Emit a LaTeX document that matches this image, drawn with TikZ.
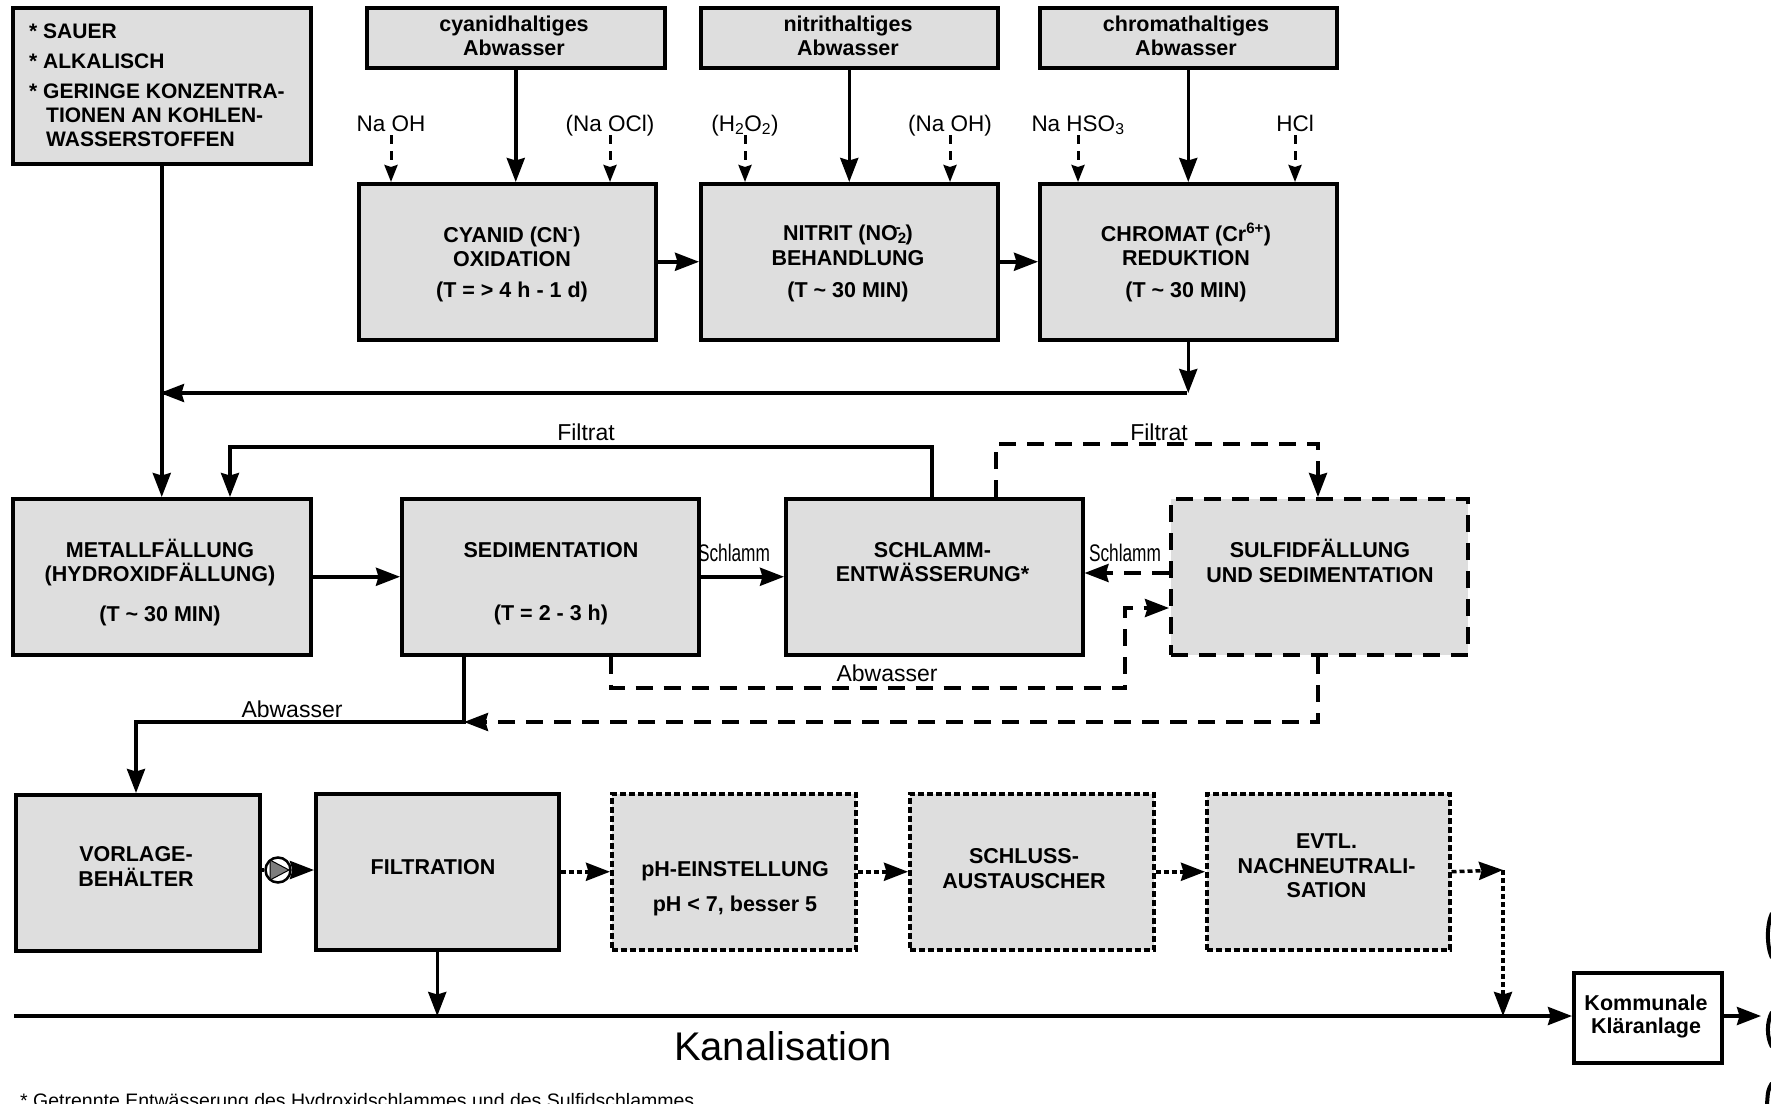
\documentclass[tikz,border=0pt]{standalone}
\usepackage{fontspec}
\setmainfont{Liberation Sans}
\newfontfamily\narrowsans[FakeStretch=0.72]{Liberation Sans}
\usetikzlibrary{arrows.meta}

\definecolor{boxgray}{RGB}{222,222,222}
\definecolor{pumpgray}{RGB}{125,125,125}

\newcommand\boxfont{\fontsize{21.5}{24}\selectfont\bfseries}
\newcommand\infofont{\fontsize{21}{24}\selectfont\bfseries}
\newcommand\reagfont{\fontsize{22.5}{26}\selectfont}
\newcommand\flowfont{\fontsize{23}{26}\selectfont}
\newcommand\sludgefont{\narrowsans\fontsize{24}{26}\selectfont}

\begin{document}
\begin{tikzpicture}[x=1pt,y=-1pt,
  box/.style={draw=black, line width=3.5pt, fill=boxgray, inner sep=0pt, anchor=north west},
  dashbox/.style={box, line width=4pt, dash pattern=on 17pt off 11pt},
  dotbox/.style={box, line width=3.5pt, dash pattern=on 6pt off 3pt},
  plainbox/.style={box, fill=white},
  btxt/.style={inner sep=0pt, anchor=base, align=center, font=\boxfont},
  ltxt/.style={inner sep=0pt, anchor=base west, font=\infofont},
  reag/.style={inner sep=0pt, anchor=base, font=\reagfont, text height=16pt, text depth=4pt},
  flow/.style={inner sep=0pt, anchor=base, font=\flowfont},
  sludge/.style={inner sep=0pt, anchor=base, font=\sludgefont},
  bigtip/.tip={Stealth[length=24pt,width=18pt,inset=2.5pt]},
  arr/.style={line width=3.5pt, -bigtip},
  line/.style={line width=3.5pt},
  darr/.style={line width=3.5pt, dash pattern=on 17pt off 11pt, -bigtip},
  rarr/.style={line width=3pt, dash pattern=on 9pt off 7pt, -{Stealth[length=17pt,width=13pt,inset=2pt]}},
  parr/.style={line width=3.5pt, dash pattern=on 5pt off 3pt, -bigtip},
]
\clip (0,0) rectangle (1771,1103);
\fill[white] (0,0) rectangle (1771,1103);

% ---------- top row: inflows and pre-treatment ----------
\node[box, minimum width=298pt, minimum height=156pt] (info) at (11,6) {};
\node[ltxt] (i1) at (29,38) {* SAUER};
\node[ltxt] (i2) at (29,68) {* ALKALISCH};
\node[ltxt] (i3) at (29,98) {* GERINGE KONZENTRA-};
\node[ltxt] (i4) at (46,122) {TIONEN AN KOHLEN-};
\node[ltxt] (i5) at (46,146) {WASSERSTOFFEN};

\node[box, minimum width=298pt, minimum height=60pt] (srcC) at (365,6) {};
\node[btxt] (srcCa) at (514,31) {cyanidhaltiges};
\node[btxt] (srcCb) at (514,55) {Abwasser};
\node[box, minimum width=297pt, minimum height=60pt] (srcN) at (699,6) {};
\node[btxt] (srcNa) at (848,31) {nitrithaltiges};
\node[btxt] (srcNb) at (848,55) {Abwasser};
\node[box, minimum width=297pt, minimum height=60pt] (srcR) at (1038,6) {};
\node[btxt] (srcRa) at (1186,31) {chromathaltiges};
\node[btxt] (srcRb) at (1186,55) {Abwasser};

\node[box, minimum width=297pt, minimum height=156pt] (cyan) at (357,182) {};
\node[btxt] (cyan1) at (512,242) {CYANID (CN\textsuperscript{-})};
\node[btxt] (cyan2) at (512,266) {OXIDATION};
\node[btxt] (cyan3) at (512,297) {(T = > 4 h - 1 d)};

\node[box, minimum width=297pt, minimum height=156pt] (nitr) at (699,182) {};
\node[btxt] (nitr1) at (848,240) {NITRIT (NO\textsubscript{2}\kern-0.5em\textsuperscript{-}\kern0.2em)};
\node[btxt] (nitr2) at (848,265) {BEHANDLUNG};
\node[btxt] (nitr3) at (848,297) {(T \textasciitilde{} 30 MIN)};

\node[box, minimum width=297pt, minimum height=156pt] (chrom) at (1038,182) {};
\node[btxt] (chrom1) at (1186,241) {CHROMAT (Cr\textsuperscript{6+})};
\node[btxt] (chrom2) at (1186,265) {REDUKTION};
\node[btxt] (chrom3) at (1186,297) {(T \textasciitilde{} 30 MIN)};

% reagents
\node[reag] (r1) at (391,131) {Na OH};
\node[reag] (r2) at (610,131) {(Na OCl)};
\node[reag] (r3) at (745,131) {(H\textsubscript{2}O\textsubscript{2})};
\node[reag] (r4) at (950,131) {(Na OH)};
\node[reag] (r5) at (1078,131) {Na HSO\textsubscript{3}};
\node[reag] (r6) at (1295,131) {HCl};
\foreach \r/\b in {r1/cyan,r2/cyan,r3/nitr,r4/nitr,r5/chrom,r6/chrom}
  \draw[rarr] (\r.south) -- (\r.south |- \b.north);

\draw[arr] (srcC.south) -- (srcC.south |- cyan.north);
\draw[arr] (srcN.south) -- (srcN.south |- nitr.north);
\draw[arr] (srcR.south) -- (srcR.south |- chrom.north);
\draw[arr] (cyan.east) -- (nitr.west);
\draw[arr] (nitr.east) -- (chrom.west);

% collected pre-treated water
\coordinate (collect) at (1186.5,393);
\draw[line width=3.5pt] (collect -| info.south) -- (collect);
\draw[arr] (chrom.south) -- (chrom.south |- collect);
\draw[arr] (collect) -- ([xshift=-1.75pt]collect -| info.south);

% ---------- middle row: precipitation and sludge ----------
\node[box, minimum width=298pt, minimum height=156pt] (metall) at (11,497) {};
\node[btxt] (m1) at (160,557) {METALLFÄLLUNG};
\node[btxt] (m2) at (160,581) {(HYDROXIDFÄLLUNG)};
\node[btxt] (m3) at (160,621) {(T \textasciitilde{} 30 MIN)};

\node[box, minimum width=297pt, minimum height=156pt] (sedi) at (400,497) {};
\node[btxt] (s1) at (551,557) {SEDIMENTATION};
\node[btxt] (s2) at (551,620) {(T = 2 - 3 h)};

\node[box, minimum width=297pt, minimum height=156pt] (schlamm) at (784,497) {};
\node[btxt] (e1) at (932.5,557) {SCHLAMM-};
\node[btxt] (e2) at (932.5,581) {ENTWÄSSERUNG*};

\node[dashbox, minimum width=297pt, minimum height=156pt] (sulfid) at (1169,497) {};
\node[btxt] (u1) at (1320,557) {SULFIDFÄLLUNG};
\node[btxt] (u2) at (1320,582) {UND SEDIMENTATION};

\draw[arr] (info.south) -- (metall.north);
\draw[arr] (metall.east) -- (sedi.west);
\draw[arr] (sedi.east) -- (schlamm.west);
\node[sludge] (lsl1) at (734,561) {Schlamm};

% filtrate return (solid)
\coordinate (f1) at (932,447);
\coordinate (f2) at (230,447);
\draw[arr] (f1 |- schlamm.north) -- (f1) -- (f2) -- (f2 |- metall.north);
\node[flow] (lf1) at (586,440) {Filtrat};

% filtrate to sulfide stage (dashed)
\coordinate (g1) at (996,444);
\coordinate (g2) at (1318,444);
\draw[darr] (g1 |- schlamm.north) -- (g1) -- (g2) -- (g2 |- sulfid.north);
\node[flow] (lf2) at (1159,440) {Filtrat};

% sulfide sludge back to dewatering
\draw[darr] (sulfid.west |- 0,573) -- (schlamm.east |- 0,573);
\node[sludge] (lsl2) at (1125,561) {Schlamm};

% waste water from sedimentation to sulfide stage
\coordinate (w1) at (611,688);
\coordinate (w2) at (1125,688);
\coordinate (w3) at (1125,608);
\draw[darr] (w1 |- sedi.south) -- (w1) -- (w2) -- (w3) -- (w3 -| sulfid.west);
\node[flow] (law1) at (887,681) {Abwasser};

% sulfide stage outlet
\coordinate (v1) at (1318,722);
\coordinate (v2) at (464,722);
\draw[darr] (sulfid.south -| v1) -- (v1) -- (v2);

% waste water to buffer tank
\coordinate (a1) at (464,722);
\coordinate (a2) at (136,722);
\draw[arr] (a1 |- sedi.south) -- (a1) -- (a2) -- (a2 |- 0,793);
\node[flow] (law2) at (292,717) {Abwasser};

% ---------- bottom row: final treatment ----------
\node[box, minimum width=244pt, minimum height=156pt] (vorlage) at (14,793) {};
\node[btxt] (o1) at (136,861) {VORLAGE-};
\node[btxt] (o2) at (136,886) {BEHÄLTER};

\node[box, minimum width=243pt, minimum height=156pt] (filt) at (314,792) {};
\node[btxt] (t1) at (433,874) {FILTRATION};

\node[dotbox, minimum width=244pt, minimum height=156pt] (ph) at (610,792) {};
\node[btxt] (p1) at (735,876) {pH-EINSTELLUNG};
\node[btxt] (p2) at (735,911) {pH < 7, besser 5};

\node[dotbox, minimum width=244pt, minimum height=156pt] (schluss) at (908,792) {};
\node[btxt] (x1) at (1024,863) {SCHLUSS-};
\node[btxt] (x2) at (1024,888) {AUSTAUSCHER};

\node[dotbox, minimum width=243pt, minimum height=156pt] (evtl) at (1205,792) {};
\node[btxt] (n1) at (1326.5,848) {EVTL.};
\node[btxt] (n2) at (1326.5,873) {NACHNEUTRALI-};
\node[btxt] (n3) at (1326.5,897) {SATION};

% pump
\node[circle, draw=black, line width=2.5pt, fill=white, minimum size=25pt, inner sep=0pt] (pump) at (278,870) {};
\fill[pumpgray, draw=black, line width=1pt] (270,860) -- (289,870) -- (270,880) -- cycle;
\draw[line] (vorlage.east |- pump) -- (pump);
\draw[arr] (pump) -- (filt.west |- pump);

\draw[parr] (filt.east) -- (ph.west);
\draw[parr] (ph.east) -- (schluss.west);
\draw[parr] (schluss.east) -- (evtl.west);
\coordinate (k1) at (1503,870);
\draw[parr] (evtl.east) -- (k1);

% sewer line
\node[plainbox, minimum width=148pt, minimum height=90pt] (komm) at (1572,971) {};
\node[btxt, font=\fontsize{21.5}{24}\selectfont\bfseries] (k1a) at (1646,1010) {Kommunale};
\node[btxt, font=\fontsize{21.5}{24}\selectfont\bfseries] (k1b) at (1646,1033) {Kläranlage};
\coordinate (kan0) at (14,1016);
\coordinate (kout) at (1761,1016);
\draw[arr] (kan0) -- (komm.west |- kan0);
\draw[arr] (filt.south) -- (filt.south |- kan0);
\draw[parr] (k1) -- (k1 |- kan0);
\draw[arr] (komm.east |- kan0) -- (kout);
\node[inner sep=0pt, anchor=base, font=\fontsize{40}{44}\selectfont] (kanal) at (783,1060) {Kanalisation};

% receiving water at the page edge
\draw[line width=4pt] (1772,913) .. controls (1766.5,925) and (1766.5,946) .. (1772,958);
\draw[line width=4pt] (1772,1012) .. controls (1766.5,1022) and (1766.5,1037) .. (1772,1047);
\draw[line width=4pt] (1772,1083) .. controls (1768,1090) .. (1767,1104);

% footnote
\node[inner sep=0pt, anchor=base west, font=\fontsize{19.5}{22}\selectfont] (fn) at (20,1107)
  {* Getrennte Entwässerung des Hydroxidschlammes und des Sulfidschlammes};
\end{tikzpicture}
\end{document}
